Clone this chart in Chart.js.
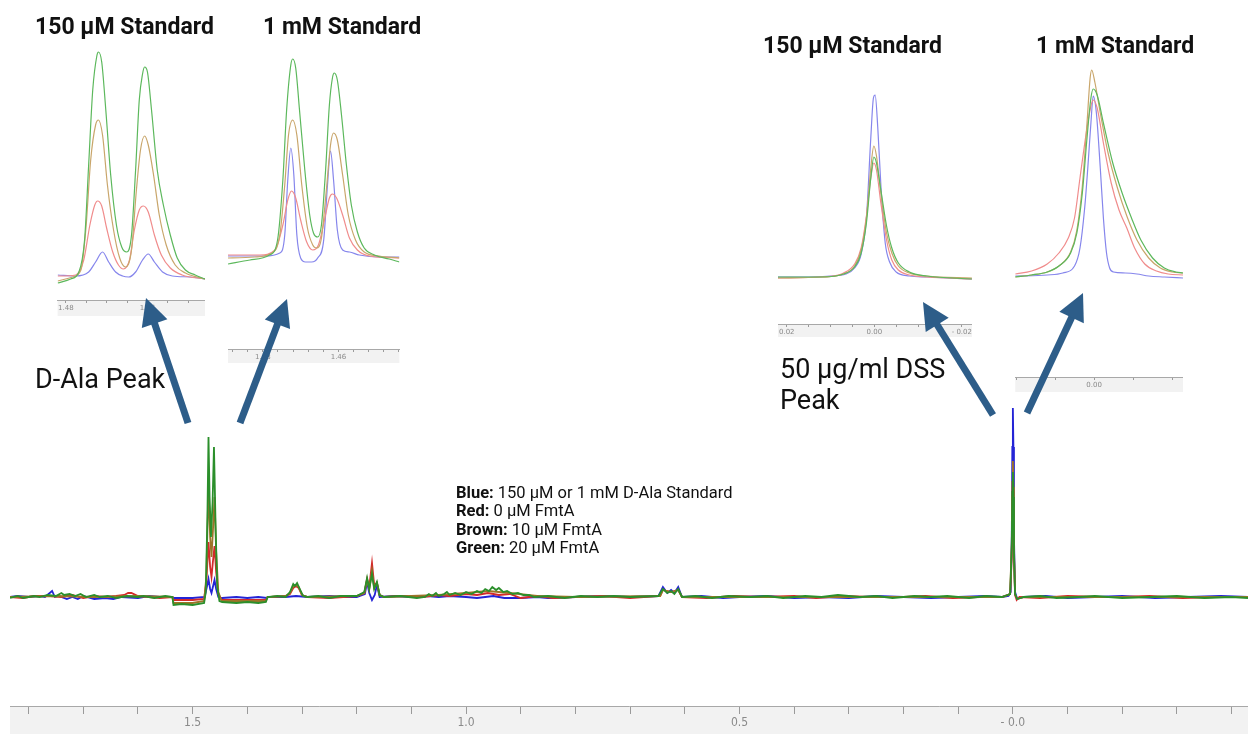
<!DOCTYPE html>
<html>
<head>
<meta charset="utf-8">
<script src="https://cdn.jsdelivr.net/npm/chart.js@4.4.1/dist/chart.umd.min.js"></script>
<style>
  html, body { margin: 0; padding: 0; background: #fff; }
  #page { position: relative; width: 1248px; height: 734px; overflow: hidden; }
  canvas { position: absolute; }
  #notes { position: absolute; left: 0; top: 0; }
  #notes text { font-family: Roboto, 'Noto Sans', sans-serif; fill: #111; }
</style>
</head>
<body>
<div id="page">
  <canvas id="main"></canvas>
  <canvas id="insetA"></canvas>
  <canvas id="insetB"></canvas>
  <canvas id="insetC"></canvas>
  <canvas id="insetD"></canvas>
  <svg id="notes" width="1248" height="734" xmlns="http://www.w3.org/2000/svg"></svg>
</div>
<script>
// ---- data: [ppm, intensity] pairs ----

// full spectrum
const mainBlue = [
  [1.834,0],[1.82,1],[1.80,0],[1.78,1],[1.77,0],[1.757,6],[1.752,0],[1.745,1],[1.73,-2],[1.72,0],
  [1.71,-2],[1.70,1],[1.68,-2],[1.66,-1],[1.645,-2],[1.63,0],[1.60,-1],[1.58,1],[1.56,0],
  [1.537,0],[1.535,-1],[1.50,-1],[1.478,0],[1.474,10],[1.471,18],[1.468,8],[1.4655,4],[1.463,10],
  [1.460,17],[1.457,8],[1.453,0],[1.446,-1],[1.42,0],[1.40,-1],[1.38,0],[1.364,-1],[1.362,0],
  [1.33,0],[1.311,1],[1.29,0],[1.25,1],[1.22,0],[1.20,0],[1.185,3],[1.181,15],[1.177,4],
  [1.172,-3],[1.167,2],[1.163,12],[1.158,0],[1.13,1],[1.10,0],[1.07,1],[1.05,0],[1.03,1],[1.00,0],
  [0.98,-1],[0.95,1],[0.93,-1],[0.90,-1],[0.87,0],[0.85,-1],[0.80,0],[0.75,1],[0.70,0],[0.648,1],
  [0.640,10],[0.632,4],[0.625,7],[0.619,4],[0.612,10],[0.605,0],[0.57,1],[0.53,-1],[0.50,0],
  [0.45,1],[0.40,-1],[0.35,0],[0.30,-1],[0.25,1],[0.20,0],[0.15,-1],[0.10,0],[0.05,1],[0.02,0],
  [0.008,1],[0.004,5],[0.002,60],[0.001,150],[0.0,189],[-0.001,150],[-0.002,60],[-0.004,5],
  [-0.008,-2],[-0.02,0],[-0.06,1],[-0.1,-1],[-0.15,0],[-0.2,1],[-0.26,-1],[-0.32,0],[-0.38,1],
  [-0.43,0]
];
const mainRed = [
  [1.834,0],[1.81,-1],[1.79,1],[1.76,1],[1.74,0],[1.72,2],[1.70,-1],[1.68,1],[1.66,0],[1.64,1],
  [1.625,2],[1.618,4],[1.612,4],[1.60,1],[1.58,0],[1.56,-1],[1.537,0],[1.535,-3],
  [1.50,-3],[1.479,-2],[1.475,15],[1.471,55],[1.468,30],[1.4655,20],[1.463,35],[1.460,51],
  [1.457,25],[1.453,3],[1.447,-3],[1.40,-3],[1.366,-3],[1.363,0],[1.33,1],[1.322,3],[1.316,9],
  [1.311,11],[1.306,9],[1.300,2],[1.29,0],[1.25,-1],[1.20,1],[1.186,4],[1.181,18],[1.177,10],
  [1.172,34],[1.168,12],[1.163,14],[1.158,2],[1.15,0],[1.12,1],[1.08,0],[1.05,2],[1.03,1],
  [1.00,3],[0.98,2],[0.96,4],[0.94,2],[0.92,3],[0.90,-1],[0.87,1],[0.84,-1],[0.80,0],[0.75,1],
  [0.70,-1],[0.645,1],[0.640,7],[0.625,5],[0.612,7],[0.605,0],[0.56,-1],[0.51,1],[0.46,0],
  [0.40,1],[0.36,-1],[0.31,1],[0.26,0],[0.20,0],[0.16,1],[0.11,-1],[0.06,0],[0.02,0],[0.005,3],
  [0.002,40],[0.001,100],[0.0,119],[-0.001,95],[-0.002,40],[-0.004,2],[-0.007,-3],[-0.012,0],
  [-0.05,-1],[-0.1,1],[-0.16,0],[-0.2,0],[-0.25,1],[-0.31,-1],[-0.37,0],[-0.43,0]
];
const mainBrown = [
  [1.834,0],[1.75,1],[1.68,0],[1.60,1],[1.537,0],[1.535,-6],[1.50,-6],[1.479,-4],[1.475,20],
  [1.471,112],[1.468,60],[1.4655,40],[1.463,65],[1.460,100],[1.457,45],[1.453,5],[1.447,-4],
  [1.40,-4],[1.366,-4],[1.363,0],[1.33,1],[1.322,4],[1.316,11],[1.311,12],[1.306,10],[1.300,2],
  [1.29,0],[1.20,1],[1.186,4],[1.181,17],[1.177,8],[1.172,26],[1.168,9],[1.163,14],[1.158,2],
  [1.15,0],[1.05,2],[1.00,4],[0.96,6],[0.92,4],[0.87,1],[0.80,0],[0.645,1],[0.640,7],[0.625,5],
  [0.612,7],[0.605,0],[0.30,0],[0.02,0],[0.005,3],[0.002,55],[0.001,115],[0.0,136],[-0.001,110],
  [-0.002,50],[-0.004,3],[-0.008,-2],[-0.02,0],[-0.43,0]
];
const mainGreen = [
  [1.834,-1],[1.82,1],[1.81,-1],[1.79,1],[1.78,0],[1.765,2],[1.75,1],[1.74,4],[1.735,2],
  [1.725,3],[1.715,1],[1.705,3],[1.695,0],[1.68,2],[1.67,0],[1.655,1],[1.64,-1],[1.62,1],
  [1.60,0],[1.59,1],[1.57,-1],[1.55,1],[1.537,0],[1.535,-8],[1.52,-7],[1.50,-8],[1.479,-6],
  [1.476,5],[1.473,80],[1.471,160],[1.469,100],[1.4665,60],[1.4635,95],[1.461,150],[1.458,70],
  [1.455,10],[1.451,-4],[1.446,-5],[1.42,-6],[1.40,-5],[1.38,-6],[1.366,-5],[1.363,0],[1.345,1],
  [1.33,0],[1.322,5],[1.316,13],[1.313,11],[1.309,14],[1.304,8],[1.298,1],[1.29,0],[1.27,1],
  [1.25,-1],[1.23,1],[1.20,1],[1.186,5],[1.181,19],[1.177,8],[1.172,23],[1.168,8],[1.163,15],
  [1.158,2],[1.15,0],[1.12,1],[1.09,-1],[1.075,0],[1.068,3],[1.062,1],[1.055,4],[1.05,1],
  [1.04,3],[1.035,5],[1.03,2],[1.02,4],[1.01,2],[1.0,5],[0.99,3],[0.98,6],[0.972,4],[0.965,8],
  [0.958,6],[0.952,10],[0.945,7],[0.94,9],[0.932,5],[0.925,6],[0.915,3],[0.905,4],[0.895,2],
  [0.885,2],[0.875,0],[0.85,1],[0.82,-1],[0.79,1],[0.76,0],[0.73,1],[0.70,0],[0.648,1],
  [0.640,8],[0.632,4],[0.625,6],[0.619,3],[0.612,8],[0.605,0],[0.58,1],[0.55,-1],[0.52,1],
  [0.48,0],[0.45,1],[0.42,-1],[0.38,1],[0.35,0],[0.32,2],[0.28,0],[0.25,1],[0.22,-1],[0.18,1],
  [0.15,0],[0.12,1],[0.08,-1],[0.05,1],[0.02,0],[0.005,3],[0.002,50],[0.001,105],[0.0,125],
  [-0.001,100],[-0.002,45],[-0.004,3],[-0.008,-2],[-0.02,0],[-0.05,1],[-0.08,-1],[-0.12,0],
  [-0.15,1],[-0.2,-1],[-0.25,0],[-0.3,1],[-0.35,-1],[-0.4,0],[-0.43,-1]
];

// inset A: D-Ala doublet, 150 uM standard
const aBlue = [
  [1.4820,3],[1.4776,2],[1.4744,6],[1.4727,16],[1.4710,26],[1.4695,16],[1.4678,6],[1.4661,2],
  [1.4646,1],[1.4629,6],[1.4612,18],[1.4598,24],[1.4583,16],[1.4563,6],[1.4539,2],[1.4495,1],
  [1.4459,-1]
];
const aRed = [
  [1.4820,2],[1.4776,3],[1.4756,18],[1.4741,53],[1.4729,73],[1.4722,77],[1.4712,72],[1.4700,50],
  [1.4685,26],[1.4671,13],[1.4659,9],[1.4644,18],[1.4632,48],[1.4620,68],[1.4610,72],[1.4598,66],
  [1.4583,43],[1.4566,23],[1.4544,10],[1.4515,3],[1.4459,-1]
];
const aBrown = [
  [1.4820,-3],[1.4783,1],[1.4763,8],[1.4751,48],[1.4739,118],[1.4727,153],[1.4720,158],
  [1.4710,143],[1.4698,93],[1.4683,48],[1.4668,20],[1.4654,11],[1.4639,28],[1.4627,88],
  [1.4617,128],[1.4607,142],[1.4598,133],[1.4585,103],[1.4571,63],[1.4554,33],[1.4532,13],
  [1.4507,5],[1.4459,-1]
];
const aGreen = [
  [1.4820,-5],[1.4788,-1],[1.4768,6],[1.4754,38],[1.4744,113],[1.4734,188],[1.4724,222],
  [1.4720,226],[1.4712,216],[1.4702,168],[1.4690,103],[1.4676,53],[1.4663,31],[1.4651,26],
  [1.4639,43],[1.4629,108],[1.4620,178],[1.4612,204],[1.4607,211],[1.4600,206],[1.4590,168],
  [1.4576,108],[1.4561,73],[1.4544,43],[1.4527,20],[1.4507,8],[1.4483,3],[1.4459,-1]
];

// inset B: D-Ala doublet, 1 mM standard
const bBlue = [
  [1.4892,2],[1.4795,2],[1.4755,5],[1.4742,23],[1.4734,78],[1.4726,110],[1.4718,83],[1.4710,23],
  [1.4700,0],[1.4687,-4],[1.4671,-4],[1.4655,0],[1.4639,18],[1.4629,73],[1.4621,107],[1.4613,78],
  [1.4603,28],[1.4589,8],[1.4571,6],[1.4545,3],[1.4492,1],[1.4439,1]
];
const bRed = [
  [1.4892,3],[1.4808,3],[1.4768,8],[1.4747,33],[1.4734,58],[1.4724,67],[1.4713,60],[1.4700,38],
  [1.4684,16],[1.4668,8],[1.4653,13],[1.4637,38],[1.4624,60],[1.4616,64],[1.4605,60],[1.4589,43],
  [1.4571,20],[1.4550,8],[1.4518,2],[1.4439,0]
];
const bBrown = [
  [1.4892,0],[1.4821,1],[1.4776,5],[1.4755,23],[1.4742,73],[1.4732,123],[1.4721,138],[1.4710,123],
  [1.4697,73],[1.4682,30],[1.4668,13],[1.4658,10],[1.4645,20],[1.4632,68],[1.4621,113],
  [1.4613,125],[1.4603,118],[1.4589,83],[1.4574,43],[1.4555,18],[1.4532,6],[1.4492,2],[1.4439,0]
];
const bGreen = [
  [1.4892,-6],[1.4834,-2],[1.4782,3],[1.4761,18],[1.4747,78],[1.4737,148],[1.4726,193],
  [1.4721,199],[1.4713,190],[1.4703,148],[1.4689,88],[1.4676,43],[1.4666,25],[1.4655,21],
  [1.4645,33],[1.4634,88],[1.4624,153],[1.4616,180],[1.4611,185],[1.4603,178],[1.4592,143],
  [1.4579,93],[1.4566,53],[1.4550,26],[1.4532,10],[1.4505,3],[1.4466,-1],[1.4439,-4]
];

// inset C: DSS, 150 uM standard
const cBlue = [
  [0.022,1],[0.015,1],[0.010,2],[0.0065,4],[0.0045,10],[0.003,24],[0.0018,60],[0.0008,140],
  [0.0002,180],[-0.0002,183],[-0.0008,150],[-0.0016,85],[-0.0025,35],[-0.0035,16],[-0.005,6],
  [-0.008,2],[-0.012,1],[-0.0223,-1]
];
const cRed = [
  [0.022,0],[0.012,1],[0.007,5],[0.0045,14],[0.003,30],[0.0018,62],[0.0008,100],[0.0001,115],
  [-0.0005,108],[-0.0015,75],[-0.0028,38],[-0.004,18],[-0.0055,8],[-0.008,3],[-0.012,1],[-0.0223,-1]
];
const cBrown = [
  [0.022,0],[0.012,1],[0.007,4],[0.0045,12],[0.003,28],[0.0018,60],[0.0008,110],[0.0001,132],
  [-0.0005,122],[-0.0015,85],[-0.0028,45],[-0.004,25],[-0.0055,12],[-0.008,5],[-0.012,2],[-0.0223,0]
];
const cGreen = [
  [0.022,1],[0.012,1],[0.007,4],[0.0045,11],[0.003,25],[0.0018,55],[0.0008,100],[0.0001,121],
  [-0.0005,115],[-0.0015,88],[-0.0028,52],[-0.004,30],[-0.0055,15],[-0.008,6],[-0.012,2],[-0.0223,-1]
];

// inset D: DSS, 1 mM standard
const dBlue = [
  [0.0101,2],[0.006,3],[0.004,5],[0.0025,12],[0.0018,30],[0.0012,70],[0.0008,110],[0.0004,155],
  [0.0001,182],[-0.0003,165],[-0.0008,110],[-0.0012,60],[-0.0016,25],[-0.0020,10],[-0.0025,6],
  [-0.004,5],[-0.0055,4],[-0.007,2],[-0.009,1],[-0.0114,0]
];
const dRed = [
  [0.0101,4],[0.008,7],[0.006,14],[0.0045,25],[0.0033,40],[0.0025,60],[0.0018,100],[0.0010,145],
  [0.0004,172],[0.0001,178],[-0.0004,170],[-0.0012,135],[-0.0022,95],[-0.0032,68],[-0.0042,50],
  [-0.0052,30],[-0.0065,14],[-0.008,7],[-0.0095,4],[-0.0114,3]
];
const dBrown = [
  [0.0101,1],[0.008,3],[0.006,6],[0.0045,12],[0.003,26],[0.0022,48],[0.0015,92],[0.0009,155],
  [0.0005,200],[0.0003,208],[-0.0001,196],[-0.0008,165],[-0.0018,125],[-0.003,90],[-0.0042,62],
  [-0.0055,38],[-0.007,20],[-0.0085,10],[-0.010,6],[-0.0114,5]
];
const dGreen = [
  [0.0101,1],[0.008,3],[0.006,6],[0.0045,12],[0.003,25],[0.0022,45],[0.0015,85],[0.0009,140],
  [0.0004,180],[0.0001,189],[-0.0004,183],[-0.0012,155],[-0.0024,115],[-0.0036,85],[-0.0048,60],
  [-0.006,38],[-0.0075,20],[-0.009,10],[-0.0105,6],[-0.0114,5]
];

// tick values and labels
const mainTicks = [1.8,1.7,1.6,1.5,1.4,1.3,1.2,1.1,1.0,0.9,0.8,0.7,0.6,0.5,0.4,0.3,0.2,0.1,0.0,-0.1,-0.2,-0.3,-0.4];
const mainTickLabels = ['','','','1.5','','','','','1.0','','','','','0.5','','','','','- 0.0','','','',''];
const aTicks = [1.48,1.475,1.47,1.465,1.46,1.455,1.45];
const aTickLabels = ['1.48','','','','1.46','',''];
const bTicks = [1.488,1.484,1.48,1.476,1.472,1.468,1.464,1.46,1.456,1.452,1.448,1.444];
const bTickLabels = ['','','1.48','','','','','1.46','','','',''];
const cTicks = [0.02,0.015,0.01,0.005,0,-0.005,-0.01,-0.015,-0.02];
const cTickLabels = ['0.02','','','','0.00','','','','- 0.02'];
const dTicks = [0.01,0.005,0,-0.005,-0.01];
const dTickLabels = ['','','0.00','',''];

// ---- styling ----
const mainColors = { blue: '#2424d6', red: '#d42a2a', brown: '#9c7428', green: '#2b8f2b' };
const insetColors = { blue: '#8686ec', red: '#f08c8c', brown: '#c9a66b', green: '#5cb85c' };

Chart.defaults.font.family = 'Roboto, "Noto Sans", sans-serif';

// grey band under every x axis, as in the Mnova printout
const bandPlugin = {
  id: 'band',
  beforeDraw(chart) {
    const { ctx, chartArea } = chart;
    ctx.save();
    ctx.fillStyle = '#f2f2f2';
    ctx.fillRect(chartArea.left, chartArea.bottom, chartArea.right - chartArea.left, chart.height - chartArea.bottom);
    ctx.restore();
  }
};

function toXY(pairs) {
  return pairs.map(p => ({ x: p[0], y: p[1] }));
}

// series come in as {name: data}; green goes first so Chart.js paints it on top
function makeSpectrum(id, box, series, colors, opt) {
  const canvas = document.getElementById(id);
  canvas.width = box.w;
  canvas.height = box.h;
  canvas.style.left = box.x + 'px';
  canvas.style.top = box.y + 'px';

  const names = ['green', 'brown', 'red', 'blue'];
  return new Chart(canvas, {
    type: 'line',
    data: {
      datasets: names.map(n => ({
        label: n,
        data: toXY(series[n]),
        borderColor: colors[n],
        borderWidth: opt.lineWidth,
        pointRadius: 0,
        tension: 0,
        cubicInterpolationMode: opt.smooth ? 'monotone' : 'default',
        fill: false
      }))
    },
    options: {
      responsive: false,
      animation: false,
      events: [],
      layout: { padding: opt.padding },
      plugins: { legend: { display: false }, tooltip: { enabled: false } },
      scales: {
        x: {
          type: 'linear',
          reverse: true,
          min: opt.xMin,
          max: opt.xMax,
          afterBuildTicks(scale) {
            scale.ticks = opt.ticks.map(v => ({ value: v }));
          },
          afterFit(scale) {
            scale.height = opt.axisHeight;
          },
          grid: {
            drawOnChartArea: false,
            tickLength: opt.tickLength,
            color: '#9a9a9a'
          },
          border: { display: true, color: '#a8a8a8', width: 1 },
          ticks: {
            autoSkip: false,
            maxRotation: 0,
            padding: opt.tickPadding,
            color: '#8a8a8a',
            font: { size: opt.fontSize, family: opt.fontFamily },
            callback: (value, index) => opt.labels[index]
          }
        },
        y: { display: false, min: opt.yMin, max: opt.yMax }
      }
    },
    plugins: [bandPlugin]
  });
}

// main spectrum
makeSpectrum('main', { x: 0, y: 0, w: 1248, h: 734 },
  { blue: mainBlue, red: mainRed, brown: mainBrown, green: mainGreen }, mainColors, {
    lineWidth: 1.8, smooth: false, padding: { left: 10, top: 10, right: 0, bottom: 0 },
    xMin: -0.43, xMax: 1.834, yMin: -109, yMax: 587,
    ticks: mainTicks, labels: mainTickLabels, axisHeight: 28,
    tickLength: 8, tickPadding: 2, fontSize: 12, fontFamily: '"Liberation Sans Narrow", "DejaVu Sans Condensed", sans-serif'
  });

const insetOpts = {
  lineWidth: 1.2, smooth: true, padding: 0, tickLength: 3, tickPadding: 1, fontSize: 7,
  fontFamily: '"DejaVu Sans", sans-serif'
};

makeSpectrum('insetA', { x: 57, y: 45, w: 148, h: 271 },
  { blue: aBlue, red: aRed, brown: aBrown, green: aGreen }, insetColors,
  Object.assign({}, insetOpts, { xMin: 1.4459, xMax: 1.4820, yMin: -22, yMax: 233, ticks: aTicks, labels: aTickLabels, axisHeight: 16 }));

makeSpectrum('insetB', { x: 228, y: 50, w: 172, h: 313 },
  { blue: bBlue, red: bRed, brown: bBrown, green: bGreen }, insetColors,
  Object.assign({}, insetOpts, { xMin: 1.4439, xMax: 1.4892, yMin: -91, yMax: 208, ticks: bTicks, labels: bTickLabels, axisHeight: 14 }));

makeSpectrum('insetC', { x: 778, y: 85, w: 195, h: 252 },
  { blue: cBlue, red: cRed, brown: cBrown, green: cGreen }, insetColors,
  Object.assign({}, insetOpts, { xMin: -0.0223, xMax: 0.022, yMin: -46, yMax: 193, ticks: cTicks, labels: cTickLabels, axisHeight: 13 }));

makeSpectrum('insetD', { x: 1015, y: 60, w: 168, h: 332 },
  { blue: dBlue, red: dRed, brown: dBrown, green: dGreen }, insetColors,
  Object.assign({}, insetOpts, { xMin: -0.0114, xMax: 0.0101, yMin: -99, yMax: 218, ticks: dTicks, labels: dTickLabels, axisHeight: 15 }));

// ---- annotations: titles, labels, legend, arrows ----
const svg = document.getElementById('notes');
const NS = 'http://www.w3.org/2000/svg';

function addText(x, y, size, weight, parts) {
  const t = document.createElementNS(NS, 'text');
  t.setAttribute('x', x);
  t.setAttribute('y', y);
  t.setAttribute('font-size', size);
  t.setAttribute('font-weight', weight);
  parts.forEach(p => {
    const s = document.createElementNS(NS, 'tspan');
    if (p.bold) s.setAttribute('font-weight', 'bold');
    s.textContent = p.text;
    t.appendChild(s);
  });
  svg.appendChild(t);
}

addText(35, 34, 23, 'bold', [{ text: '150 µM Standard' }]);
addText(263, 34, 23, 'bold', [{ text: '1 mM Standard' }]);
addText(763, 53, 23, 'bold', [{ text: '150 µM Standard' }]);
addText(1036, 53, 23, 'bold', [{ text: '1 mM Standard' }]);

addText(35, 388, 27, 'normal', [{ text: 'D-Ala Peak' }]);
addText(780, 378, 27, 'normal', [{ text: '50 µg/ml DSS' }]);
addText(780, 409, 27, 'normal', [{ text: 'Peak' }]);

const legendRows = [
  ['Blue:', ' 150 µM or 1 mM D-Ala Standard'],
  ['Red:', ' 0 µM FmtA'],
  ['Brown:', ' 10 µM FmtA'],
  ['Green:', ' 20 µM FmtA']
];
legendRows.forEach((row, i) => {
  addText(456, 498 + i * 18.3, 16.5, 'normal', [{ text: row[0], bold: true }, { text: row[1] }]);
});

// arrows: [tailX, tailY, tipX, tipY]
const arrows = [
  [188, 423, 146, 298],
  [240, 423, 287, 299],
  [993, 415, 923, 302],
  [1027, 413, 1083, 293]
];
const arrowColor = '#2d5d89';
arrows.forEach(([sx, sy, tx, ty]) => {
  const len = Math.hypot(tx - sx, ty - sy);
  const ux = (tx - sx) / len, uy = (ty - sy) / len;
  const headLen = 27, headW = 27;
  const bx = tx - ux * headLen, by = ty - uy * headLen;
  const nx = -uy, ny = ux;
  const line = document.createElementNS(NS, 'line');
  line.setAttribute('x1', sx); line.setAttribute('y1', sy);
  line.setAttribute('x2', bx + ux * 2); line.setAttribute('y2', by + uy * 2);
  line.setAttribute('stroke', arrowColor);
  line.setAttribute('stroke-width', 7);
  svg.appendChild(line);
  const head = document.createElementNS(NS, 'polygon');
  head.setAttribute('points', [
    tx + ',' + ty,
    (bx + nx * headW / 2) + ',' + (by + ny * headW / 2),
    (bx - nx * headW / 2) + ',' + (by - ny * headW / 2)
  ].join(' '));
  head.setAttribute('fill', arrowColor);
  svg.appendChild(head);
});
</script>
</body>
</html>
